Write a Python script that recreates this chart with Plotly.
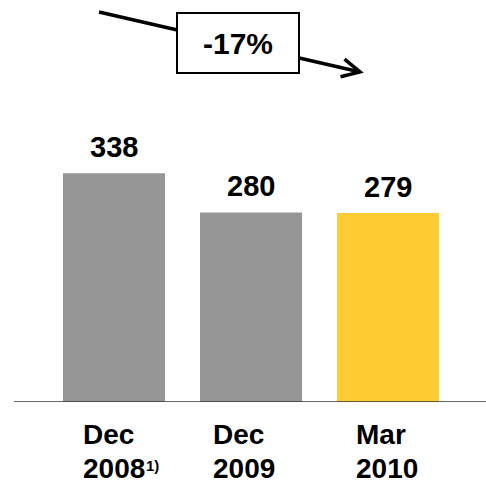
import plotly.graph_objects as go

# ---- data ----
label_month = ["Dec", "Dec", "Mar"]
label_year = ["2008", "2009", "2010"]
label_note = ["1)", "", ""]
values = [338, 280, 279]
change_label = "-17%"

# ---- styles / layout constants ----
W, H = 486, 483
PLOT_B = 81
PLOT_H = H - PLOT_B
PX_PER_UNIT = 0.677
BAR_SPACING = 137
FIRST_CENTER = 114
BAR_W_PX = 102
colors = ["#969696", "#969696", "#FFCC33"]
label_shift = [-33, -40, -34]
NOTE_OFFSET = 63
FONT = "Liberation Sans, Arial, sans-serif"


def px(xp):
    return xp / W


def py(yp):
    return 1 - yp / PLOT_H


xs = list(range(len(values)))

fig = go.Figure(
    go.Bar(
        x=xs,
        y=values,
        width=BAR_W_PX / BAR_SPACING,
        marker=dict(color=colors, line=dict(width=0)),
        hoverinfo="skip",
    )
)

annotations = []
for i, v in enumerate(values):
    annotations.append(dict(
        x=i, y=v, xref="x", yref="y", text=str(v), showarrow=False,
        yanchor="bottom", yshift=8,
        font=dict(family=FONT, size=29, color="black", weight="bold"),
    ))
    annotations.append(dict(
        x=i, y=py(435), xref="x", yref="paper", text=label_month[i],
        showarrow=False, xanchor="left", yanchor="middle", xshift=label_shift[i],
        font=dict(family=FONT, size=28, color="black", weight="bold"),
    ))
    annotations.append(dict(
        x=i, y=py(468), xref="x", yref="paper", text=label_year[i],
        showarrow=False, xanchor="left", yanchor="middle", xshift=label_shift[i],
        font=dict(family=FONT, size=28, color="black", weight="bold"),
    ))
    if label_note[i]:
        annotations.append(dict(
            x=i, y=py(465.5), xref="x", yref="paper", text=label_note[i],
            showarrow=False, xanchor="left", yanchor="middle",
            xshift=label_shift[i] + NOTE_OFFSET,
            font=dict(family=FONT, size=15, color="black", weight="bold"),
        ))

annotations.append(dict(
    x=px(238), y=py(44), xref="paper", yref="paper", text=change_label,
    showarrow=False, xanchor="center", yanchor="middle",
    font=dict(family=FONT, size=30, color="black", weight="bold"),
))

shapes = [
    dict(type="line", xref="paper", yref="y", x0=px(14), x1=1, y0=0, y1=0,
         line=dict(color="#333333", width=1.5)),
    dict(type="line", xref="paper", yref="paper", x0=px(99), y0=py(12),
         x1=px(358), y1=py(71.5), line=dict(color="black", width=3.5)),
    dict(type="path", xref="paper", yref="paper",
         path=f"M {px(344.5)},{py(59.2)} L {px(360)},{py(72)} L {px(340.5)},{py(76.8)}",
         line=dict(color="black", width=3.5)),
    dict(type="rect", xref="paper", yref="paper", x0=px(177), x1=px(299),
         y0=py(13), y1=py(73), fillcolor="white", line=dict(color="black", width=2)),
]

fig.update_layout(
    width=W, height=H,
    margin=dict(l=0, r=0, t=0, b=PLOT_B, pad=0),
    paper_bgcolor="white", plot_bgcolor="white",
    showlegend=False,
    xaxis=dict(range=[-FIRST_CENTER / BAR_SPACING, (W - FIRST_CENTER) / BAR_SPACING],
               showgrid=False, zeroline=False, showticklabels=False, showline=False,
               fixedrange=True),
    yaxis=dict(range=[0, PLOT_H / PX_PER_UNIT], showgrid=False, zeroline=False,
               showticklabels=False, showline=False, fixedrange=True),
    annotations=annotations,
    shapes=shapes,
)

fig.write_html(
    "out.html",
    config={"displayModeBar": False},
    post_script="document.body.style.margin='0';document.body.style.overflow='hidden';",
)
